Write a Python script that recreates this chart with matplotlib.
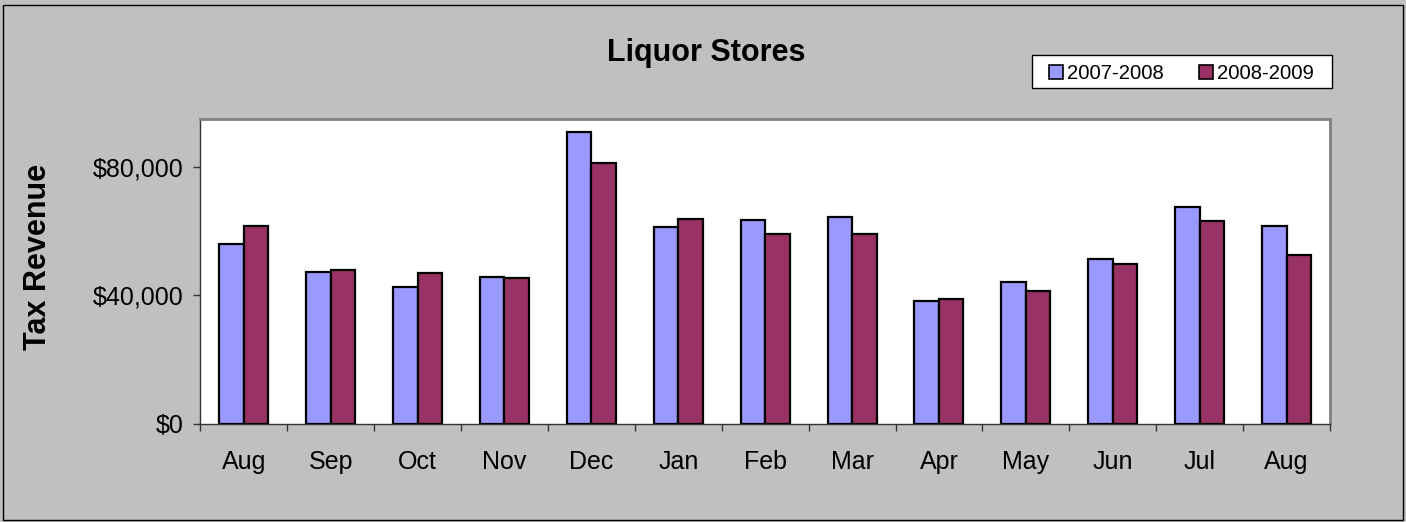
import matplotlib
matplotlib.use("Agg")
import matplotlib.pyplot as plt
from matplotlib.patches import Rectangle
from matplotlib.ticker import FuncFormatter, FixedLocator, NullFormatter
import numpy as np

plt.rcParams['font.family'] = ['Liberation Sans', 'DejaVu Sans']

months = ["Aug", "Sep", "Oct", "Nov", "Dec", "Jan", "Feb", "Mar", "Apr", "May", "Jun", "Jul", "Aug"]
series_names = ["2007-2008", "2008-2009"]
rev_2007_2008 = [56100, 47300, 42600, 45600, 91100, 61300, 63400, 64600, 38200, 44300, 51400, 67700, 61800]
rev_2008_2009 = [61800, 47800, 47000, 45300, 81400, 63900, 59300, 59300, 38900, 41500, 49900, 63300, 52700]
yticks = [0, 40000, 80000]
colors = ["#9999FF", "#993366"]

W, H = 1406, 522
fig = plt.figure(figsize=(W / 100, H / 100), dpi=100)
fig.patch.set_facecolor("#C0C0C0")

# outer border
fig.patches.append(Rectangle((3 / W, 2 / H), (W - 6) / W, (H - 7) / H, transform=fig.transFigure,
                             fill=False, edgecolor="#000000", linewidth=1.0))

ax = fig.add_axes([200.3 / W, 1 - 423.5 / H, (1330 - 200.3) / W, (423.5 - 119.3) / H])
ax.set_facecolor("white")

x = np.arange(len(months))
bw = 0.282
ax.bar(x - bw / 2, rev_2007_2008, bw, color=colors[0], edgecolor="black", linewidth=1.6, zorder=3)
ax.bar(x + bw / 2, rev_2008_2009, bw, color=colors[1], edgecolor="black", linewidth=1.6, zorder=3)

ax.set_xlim(-0.5, len(months) - 0.5)
ax.set_ylim(0, 95000)

ax.xaxis.set_major_locator(FixedLocator(np.arange(-0.5, len(months), 1.0)))
ax.xaxis.set_major_formatter(NullFormatter())
ax.xaxis.set_minor_locator(FixedLocator(x))
ax.set_xticks(x, months, minor=True)
ax.tick_params(axis='x', which='major', direction='out', length=5, width=1, color="#333333")
ax.tick_params(axis='x', which='minor', length=0, pad=19, labelsize=18)

ax.set_yticks(yticks)
ax.yaxis.set_major_formatter(FuncFormatter(lambda v, p: "${:,.0f}".format(v)))
ax.tick_params(axis='y', direction='out', length=5, width=1, color="#333333", pad=7, labelsize=18)

for s in ["left", "bottom"]:
    ax.spines[s].set_color("#333333")
    ax.spines[s].set_linewidth(1.0)
for s in ["top", "right"]:
    ax.spines[s].set_color("#808080")
    ax.spines[s].set_linewidth(2.0)

fig.text(706 / W, 1 - 61 / H, "Liquor Stores", ha="center", va="baseline",
         fontsize=22, fontweight="bold")
fig.text(38 / W, 1 - 256.5 / H, "Tax Revenue", ha="center", va="center", rotation=90,
         fontsize=22, fontweight="bold")

# legend box
fig.patches.append(Rectangle((1032 / W, 1 - 88 / H), 300 / W, 33 / H, transform=fig.transFigure,
                             facecolor="white", edgecolor="black", linewidth=1.0))
sq = 14
for i, (name, c) in enumerate(zip(series_names, colors)):
    x0 = [1049, 1199][i]
    fig.patches.append(Rectangle((x0 / W, 1 - (71.5 + sq / 2) / H), sq / W, sq / H,
                                 transform=fig.transFigure, facecolor=c, edgecolor="black",
                                 linewidth=1.2))
    fig.text((x0 + sq + 4) / W, 1 - 71.5 / H, name, ha="left", va="center_baseline", fontsize=14.6)

fig.savefig("out.png", dpi=100, facecolor=fig.get_facecolor())
